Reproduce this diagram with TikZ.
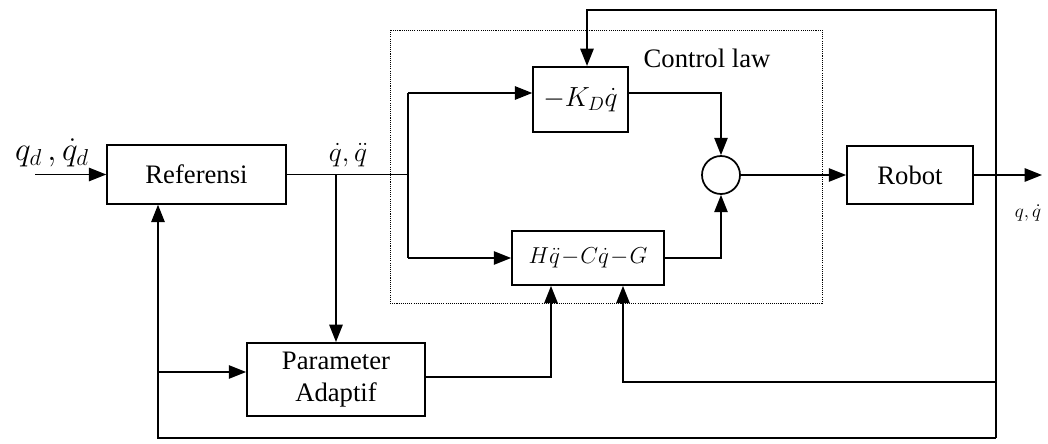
\documentclass[tikz,border=0pt]{standalone}
\usepackage{fontspec}
\setmainfont{Liberation Serif}
\usetikzlibrary{arrows.meta}

\begin{document}
\begin{tikzpicture}[x=0.75pt, y=-0.75pt,
  block/.style={draw, line width=1.3pt, inner sep=0pt, align=center, font=\fontsize{20}{24}\selectfont},
  pfeil/.style={-{Triangle[length=13pt,width=10pt]}, line width=1.3pt},
  linie/.style={line width=1.3pt}]
 \useasboundingbox (0,0) rectangle (1048,443);

 % Bloecke
 \node[block, minimum width=134pt, minimum height=44pt] (ref) at (196.5,174.5) {Referensi};
 \node[block, minimum width=133.5pt, minimum height=55pt] (par) at (336,379.5) {Parameter\\Adaptif};
 \node[block, minimum width=71pt, minimum height=49pt, font=\fontsize{21}{25}\selectfont] (kd) at (580.5,99.5) {$-K_D\dot{q}$};
 \node[block, minimum width=114pt, minimum height=40.5pt, font=\fontsize{17}{20}\selectfont] (hcg) at (588,258) {$\medmuskip=1mu H\ddot{q}-C\dot{q}-G$};
 \node[block, circle, minimum size=28.5pt] (sum) at (721,175) {};
 \node[block, minimum width=94.5pt, minimum height=43.5pt] (rob) at (910,175) {Robot};

 % Rahmen Control law
 \draw[line width=0.6pt, dash pattern=on 0.8pt off 0.8pt] (390,30) rectangle (822,303);
 \node[font=\fontsize{20}{24}\selectfont] (cl) at (707,58) {Control law};

 % Hilfspunkte
 \coordinate (ein) at (35,174.5);
 \coordinate (aus) at (1042,175);
 \coordinate (ab) at (336,174.5);
 \coordinate (vz) at (408,174.5);
 \coordinate (vo) at (408,93);
 \coordinate (vu) at (408,258);
 \coordinate (rt) at (996,10);
 \coordinate (ru) at (996,438);
 \coordinate (lu) at (158,438);
 \coordinate (kt) at (587,10);
 \coordinate (lp) at (158,372);
 \coordinate (pa) at (551,377);
 \coordinate (fb) at (623,382);

 % Signale
 \node[font=\fontsize{24}{28}\selectfont] (qd) at (52,153) {$q_d\,,\dot{q}_d$};
 \node[font=\fontsize{21}{25}\selectfont] (qq) at (348,155) {$\dot{q},\ddot{q}$};
 \node[font=\fontsize{15}{18}\selectfont] (qa) at (1028,213) {$q,\dot{q}$};

 % Vorwaertszweig
 \draw[pfeil] (ein) -- (ref.west);
 \draw[linie] (ref.east) -- (vz);
 \draw[pfeil] (ab) -- (par.north);
 \draw[linie] (vo) -- (vu);
 \draw[pfeil] (vo) -- (vo -| kd.west);
 \draw[pfeil] (vu) -- (hcg.west);
 \draw[pfeil] (vo -| kd.east) -- (vo -| sum.north) -- (sum.north);
 \draw[pfeil] (hcg.east) -- (hcg.east -| sum.south) -- (sum.south);
 \draw[pfeil] (sum.east) -- (rob.west);
 \draw[pfeil] (rob.east) -- (aus);

 % Rueckfuehrungen
 \draw[pfeil] (ru) -- (rt) -- (kt) -- (kd.north -| kt);
 \draw[pfeil] (ru) -- (lu) -- (lu |- ref.south);
 \draw[pfeil] (lp) -- (lp -| par.west);
 \draw[pfeil] (pa -| par.east) -- (pa) -- (pa |- hcg.south);
 \draw[pfeil] (fb -| ru) -- (fb) -- (fb |- hcg.south);
\end{tikzpicture}
\end{document}
